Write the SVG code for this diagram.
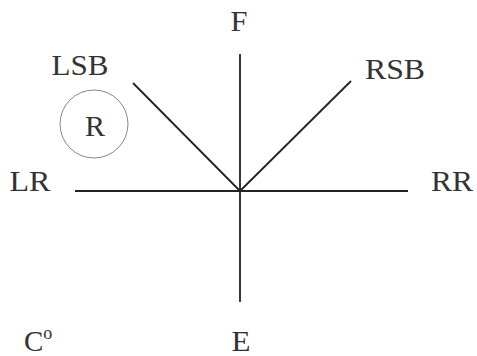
<svg xmlns="http://www.w3.org/2000/svg" width="477" height="356" viewBox="0 0 477 356">
<style>
.t{font-family:"Liberation Serif","Times New Roman",serif;font-size:29px;fill:#333}
.l{stroke:#222;stroke-width:1.8;fill:none}
</style>
<rect width="477" height="356" fill="#fff"/>
<g id="connectors">
<line class="l" x1="240" y1="54" x2="240" y2="302"/>
<line class="l" x1="75" y1="191" x2="408" y2="191"/>
<line class="l" x1="133" y1="83" x2="240" y2="191"/>
<line class="l" x1="351" y1="81" x2="240" y2="191"/>
</g>
<g id="F"><text class="t" x="239" y="31" text-anchor="middle" textLength="17" lengthAdjust="spacingAndGlyphs">F</text></g>
<g id="E"><text class="t" x="241" y="351" text-anchor="middle" textLength="19" lengthAdjust="spacingAndGlyphs">E</text></g>
<g id="LSB"><text class="t" x="80" y="75" text-anchor="middle" textLength="57" lengthAdjust="spacingAndGlyphs">LSB</text></g>
<g id="RSB"><text class="t" x="395" y="79" text-anchor="middle" textLength="60" lengthAdjust="spacingAndGlyphs">RSB</text></g>
<g id="LR"><text class="t" x="30" y="191" text-anchor="middle" textLength="41" lengthAdjust="spacingAndGlyphs">LR</text></g>
<g id="RR"><text class="t" x="452" y="191" text-anchor="middle" textLength="42" lengthAdjust="spacingAndGlyphs">RR</text></g>
<g id="R">
<circle cx="94" cy="124" r="34" fill="none" stroke="#888" stroke-width="1"/>
<text class="t" x="95" y="136" text-anchor="middle" textLength="20" lengthAdjust="spacingAndGlyphs">R</text>
</g>
<g id="C"><text class="t" x="24" y="351">C<tspan font-size="18" dy="-12">o</tspan></text></g>
</svg>
